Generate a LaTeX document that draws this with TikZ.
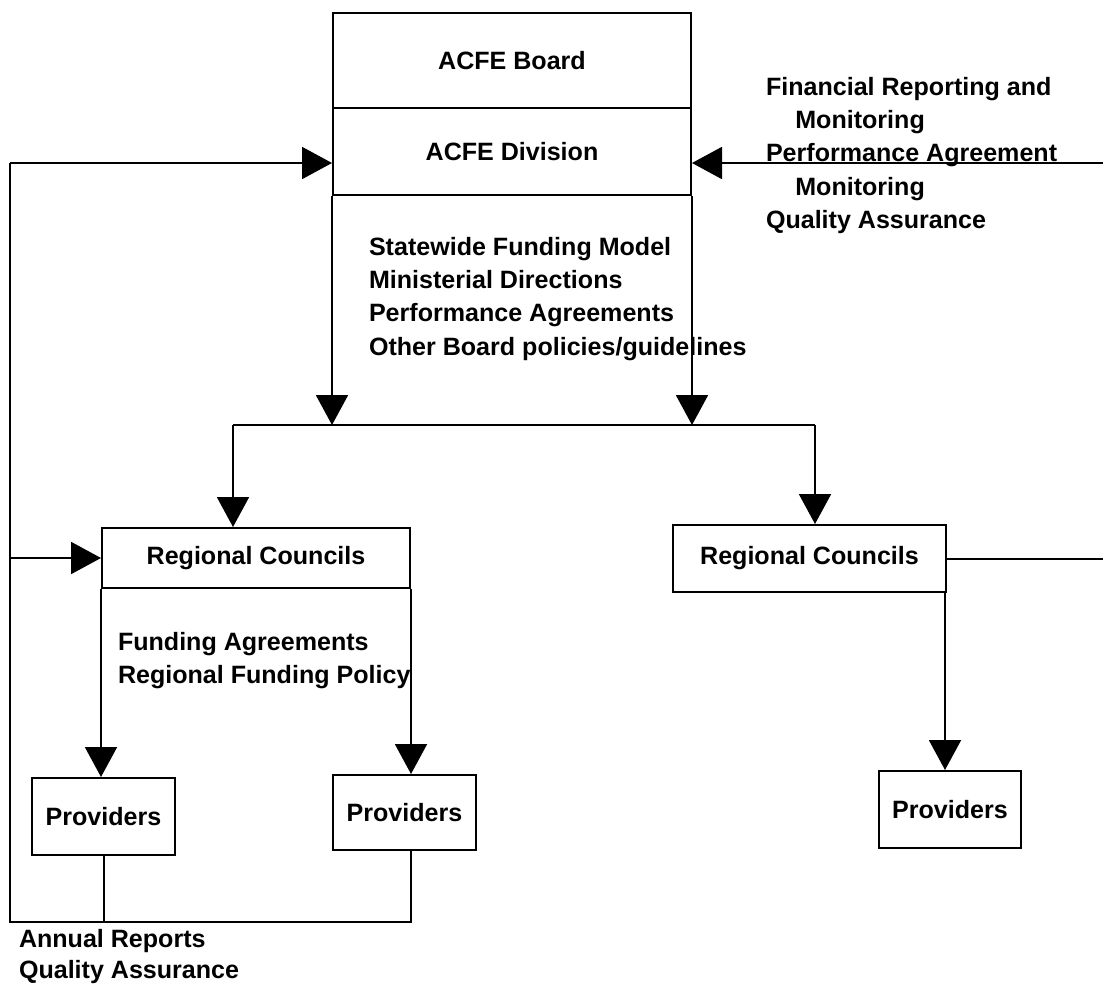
\documentclass[tikz,border=0pt]{standalone}
\usepackage{fontspec}
\setmainfont{Liberation Sans}
\usetikzlibrary{arrows.meta}

\tikzset{every picture/.style={line width=1.5pt}}

\begin{document}
\begin{tikzpicture}[x=0.75pt,y=0.75pt,yscale=-1,xscale=1,
    lbl/.style={font=\bfseries\fontsize{18.8}{25}\selectfont},
    unit/.style={draw,lbl,inner sep=0pt},
    note/.style={lbl,anchor=north west,inner sep=0pt,align=left},
    flow/.style={-{Triangle[length=22.5pt,width=24pt]}}]
\useasboundingbox (0,0) rectangle (1103,985);

% Boxes
\node [unit,minimum width=268.5pt,minimum height=71.25pt] (board) at (512,60.5) {ACFE Board};
\node [unit,minimum width=268.5pt,minimum height=65.25pt] (division) at (512,151.5) {ACFE Division};
\node [unit,minimum width=231pt,minimum height=45pt] (regL) at (256,558) {Regional Councils};
\node [unit,minimum width=204.75pt,minimum height=50.25pt] (regR) at (809.5,558.5) {Regional Councils};
\node [unit,minimum width=107.25pt,minimum height=57.75pt] (provA) at (103.5,816.5) {Providers};
\node [unit,minimum width=107.25pt,minimum height=56.25pt] (provB) at (404.5,812.5) {Providers};
\node [unit,minimum width=106.5pt,minimum height=57.75pt] (provC) at (950,809.5) {Providers};

% Corner points
\coordinate (lt) at (10,163);
\coordinate (lb) at (10,922);
\coordinate (rt) at (1103,163);
\coordinate (busL) at (233,425);
\coordinate (busR) at (815,425);

%Straight Lines
\draw [flow] (division.south west) -- (division.south west |- busL);
\draw [flow] (division.south east) -- (division.south east |- busL);
\draw (busL) -- (busR);
\draw [flow] (busL) -- (busL |- regL.north);
\draw [flow] (busR) -- (busR |- regR.north);
%Straight Lines
\draw [flow] (rt) -- (rt -| division.east);
\draw [flow] (lt) -- (lt -| division.west);
\draw (regR.east) -- (regR.east -| rt);
%Straight Lines
\draw [flow] (regL.south west) -- (regL.south west |- provA.north);
\draw [flow] (regL.south east) -- (regL.south east |- provB.north);
\draw [flow] ([xshift=-1.5pt]regR.south east) -- ([xshift=-1.5pt]regR.south east |- provC.north);
%Straight Lines
\draw (regL.south east |- provB.south) -- (regL.south east |- lb) -- (lb) -- (lt);
\draw (provA.south) -- (provA.south |- lb);
\draw [flow] (lb |- regL.west) -- (regL.west);

% Text Node
\node [note] (policies) at (368,236) {Statewide Funding Model\\Ministerial Directions\\Performance Agreements\\Other Board policies/guidelines};
% Text Node
\node [note] (checks) at (765,76) {Financial Reporting and\\\hspace*{22pt}Monitoring\\Performance Agreement\\\hspace*{22pt}Monitoring\\Quality Assurance};
% Text Node
\node [note] (regional) at (117,631) {Funding Agreements\\Regional Funding Policy};
% Text Node
\node [note,font=\bfseries\fontsize{18.8}{23.5}\selectfont] (annual) at (18,928) {Annual Reports\\Quality Assurance};
\end{tikzpicture}
\end{document}
